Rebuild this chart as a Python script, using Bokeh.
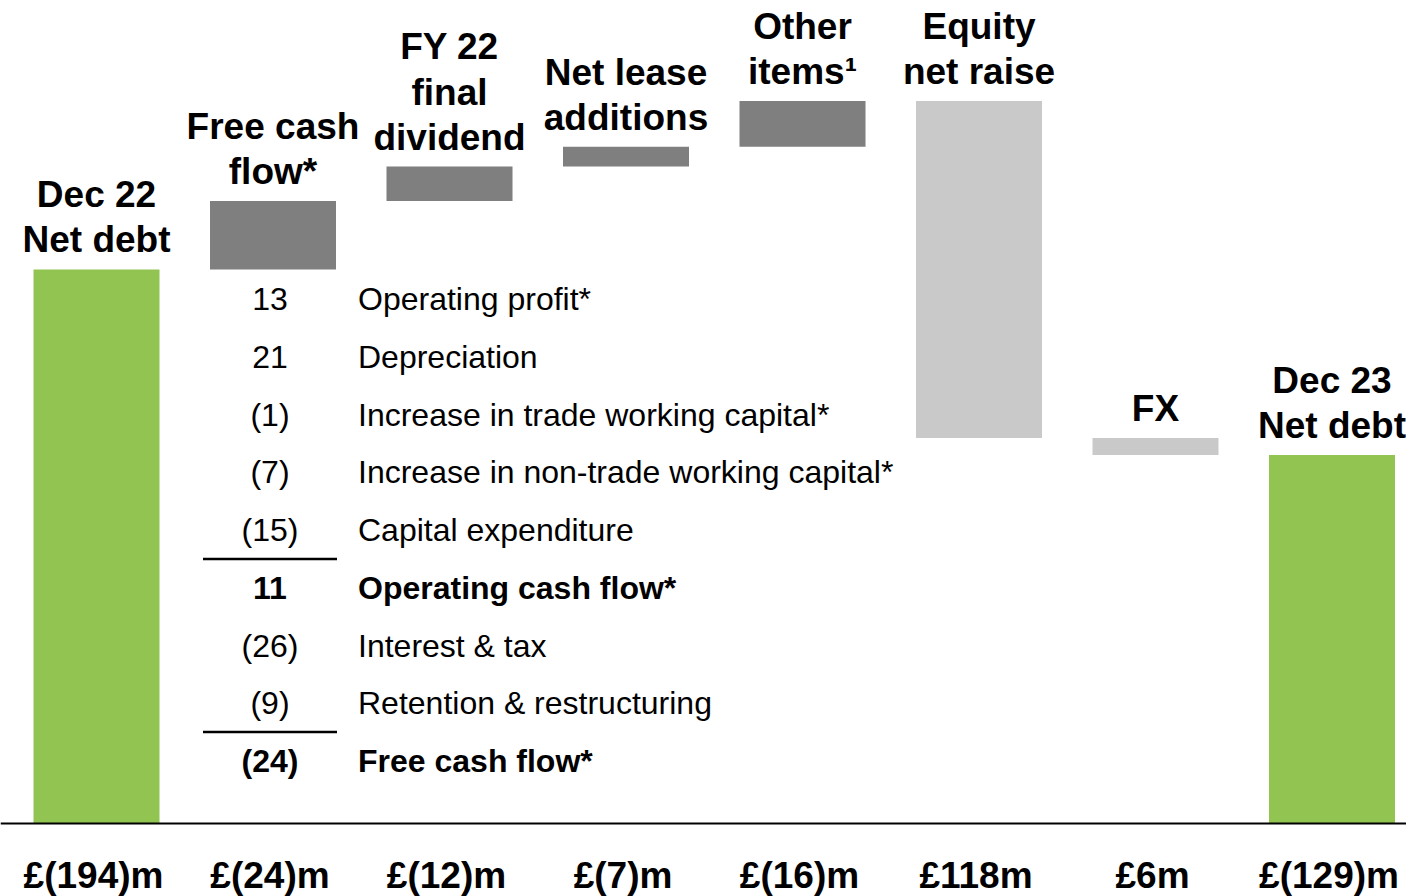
from bokeh.plotting import figure
from bokeh.models import Range1d, Span, ColumnDataSource
from bokeh.core.properties import value
from bokeh.embed import file_html
from bokeh.resources import INLINE

# ---------------- data ----------------
categories = ["Dec 22\nNet debt", "Free cash\nflow*", "FY 22\nfinal\ndividend",
              "Net lease\nadditions", "Other\nitems\u00b9", "Equity\nnet raise",
              "FX", "Dec 23\nNet debt"]
values = [-194, -24, -12, -7, -16, 118, 6, -129]
kinds = ["total", "delta", "delta", "delta", "delta", "delta", "delta", "total"]
value_labels = ["£(194)m", "£(24)m", "£(12)m", "£(7)m", "£(16)m", "£118m", "£6m", "£(129)m"]

fcf_amounts = ["13", "21", "(1)", "(7)", "(15)", "11", "(26)", "(9)", "(24)"]
fcf_items = ["Operating profit*", "Depreciation", "Increase in trade working capital*",
             "Increase in non-trade working capital*", "Capital expenditure",
             "Operating cash flow*", "Interest & tax", "Retention & restructuring",
             "Free cash flow*"]
fcf_bold = [False, False, False, False, False, True, False, False, True]
fcf_rules_after = [4, 7]   # rule drawn below these rows

# ---------------- styles ----------------
FONT = value("Liberation Sans")
GREEN = "#92C452"
DARK = "#7F7F7F"
LIGHT = "#C9C9C9"

# ---------------- waterfall computation (debt shown upward) ----------------
xs, bottoms, tops, colors = [], [], [], []
running = 0.0
for i, (v, k) in enumerate(zip(values, kinds)):
    if k == "total":
        start, end = 0.0, -v
        running = -v
        col = GREEN
    else:
        start = running
        end = running - v
        running = end
        col = DARK if v < 0 else LIGHT
    xs.append(i)
    bottoms.append(min(start, end))
    tops.append(max(start, end))
    colors.append(col)

src = ColumnDataSource(dict(x=xs, bottom=bottoms, top=tops, color=colors,
                            cat=categories, lab=value_labels,
                            ylab=[-18.2] * len(xs)))

W, H = 1406, 896
sx = 176.5          # px per category
sy = 2.856          # px per £m
x0 = -96 / sx
y0 = -(H - 823) / sy
p = figure(width=W, height=H, output_backend="svg", toolbar_location=None,
           x_range=Range1d(x0, x0 + W / sx), y_range=Range1d(y0, y0 + H / sy),
           x_axis_location=None, y_axis_location=None, min_border=0)
p.grid.visible = False
p.outline_line_color = None
p.background_fill_color = "white"
p.border_fill_color = "white"

p.vbar(x="x", width=126 / sx, bottom="bottom", top="top", fill_color="color",
       line_color=None, source=src)

p.add_layout(Span(location=0, dimension="width", line_color="black", line_width=2))

# category labels above bars
p.text(x="x", y="top", text="cat", source=src, text_align="center",
       text_baseline="bottom", y_offset=-9, text_font=FONT, text_font_style="bold",
       text_font_size="37px", text_line_height=1.1, text_color="black")

# value labels under axis
p.text(x="x", y="ylab", text="lab", source=src, text_align="center",
       text_baseline="middle", x_offset=-3, text_font=FONT, text_font_style="bold",
       text_font_size="37px", text_color="black")

# free cash flow breakdown table
fcf_x = 1
row_y0 = 183.5
row_dy = 20.2
n = len(fcf_items)
rows_y = [row_y0 - row_dy * k for k in range(n)]
num_x = [fcf_x - 3 / sx] * n
item_x = [fcf_x + 85 / sx] * n
for bold in (False, True):
    idx = [k for k in range(n) if fcf_bold[k] == bold]
    style = "bold" if bold else "normal"
    p.text(x=[num_x[k] for k in idx], y=[rows_y[k] for k in idx],
           text=[fcf_amounts[k] for k in idx], text_align="center",
           text_baseline="middle", text_font=FONT, text_font_style=style,
           text_font_size="32px", text_color="black")
    p.text(x=[item_x[k] for k in idx], y=[rows_y[k] for k in idx],
           text=[fcf_items[k] for k in idx], text_align="left",
           text_baseline="middle", text_font=FONT, text_font_style=style,
           text_font_size="32px", text_color="black")

rule_y = [(rows_y[k] + rows_y[k + 1]) / 2 for k in fcf_rules_after]
p.segment(x0=[fcf_x - 70 / sx] * len(rule_y), x1=[fcf_x + 64 / sx] * len(rule_y),
          y0=rule_y, y1=rule_y, line_color="black", line_width=2.5)

open("out.html", "w").write(file_html(p, INLINE))
